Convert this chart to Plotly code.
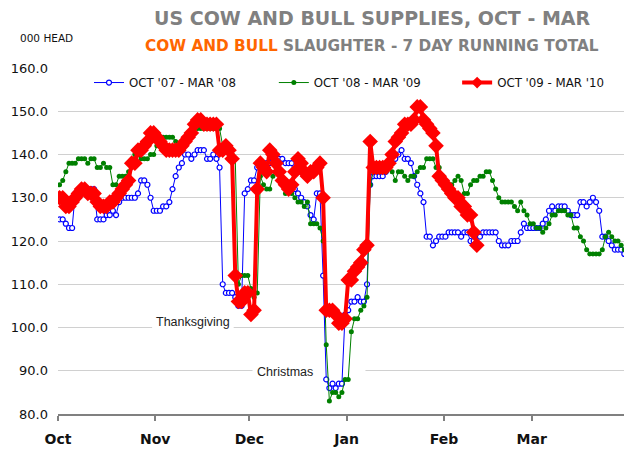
import pandas as pd
import plotly.graph_objects as go

# ---- data (000 head, 7-day running total, daily from Oct 1) ----
month_ticks = ["2009-10-01", "2009-11-01", "2009-12-01", "2010-01-01",
               "2010-02-01", "2010-03-01", "2010-04-01"]
month_labels = ["Oct", "Nov", "Dec", "Jan", "Feb", "Mar", ""]

oct07_mar08 = [
    125, 125, 124, 123, 123, 131, 131, 131, 132, 132, 132, 132, 125, 125, 125, 126, 126, 127, 126, 129,
    130, 130, 130, 130, 130, 131, 134, 134, 133, 130, 127, 127, 127, 128, 128, 129, 132, 135, 137, 138,
    140, 140, 139, 140, 141, 141, 141, 139, 139, 140, 139, 137,
    110, 108, 108, 108, 107, 105, 105,
    131, 132, 134, 134, 137, 137, 138, 138, 138, 139, 139, 139, 139, 138, 138, 138, 132, 131, 130, 129,
    128, 126, 125, 131, 131, 112,
    88, 86, 87, 86, 87, 87, 103, 104, 106, 106, 107, 106, 106, 110,
    133, 135, 135, 135, 135, 136, 137, 138, 139, 140, 141, 139, 139, 138, 135, 133, 131, 129, 121, 121,
    119, 120, 121, 121, 121,
    122, 122, 122, 122, 121, 122, 122, 120, 120, 121, 121, 122, 122, 122, 122, 122, 120, 119, 119, 119,
    120, 120, 120, 122, 124, 123, 123, 123, 123, 123, 124, 125, 127, 128, 127, 128, 128, 128, 127, 126,
    126, 126, 129, 129, 128, 129, 130, 129, 127, 121, 121, 120, 119, 118, 118, 118, 117, 117,
]

oct08_mar09 = [
    133, 134, 136, 138, 138, 138, 139, 139, 139, 138, 139, 139, 137, 137, 138, 137, 137, 133, 133, 135,
    135, 135, 136,
    138, 140, 140, 139, 139, 139, 140, 140, 142, 142,
    144, 144, 144, 144, 143, 142, 142, 142, 143, 145, 146, 146, 146, 146, 146, 146, 146, 146, 146, 142,
    141, 141, 140, 139,
    110, 112, 112, 112, 109, 107, 108,
    135, 133, 132, 132, 135, 137, 136, 134, 131, 132, 131, 130, 129, 129, 128, 129, 124, 124, 124, 123,
    120,
    96, 83, 85, 85, 84, 85, 88, 88, 99, 102, 102, 104, 105, 107,
    133, 136, 136, 136, 136, 136, 137, 136, 134, 136, 136, 135, 134, 135, 135, 136, 137, 137, 139, 139,
    139, 137, 137,
    135, 133, 133, 133, 134, 135, 134, 131, 131, 133, 134, 134, 135, 135, 136, 136, 134, 132, 130, 129,
    129, 129, 129, 128, 127, 129, 127, 126, 124, 124, 123, 123, 122, 123, 124, 126, 126, 127, 127, 127,
    126, 126, 123, 123, 121, 120, 118, 117, 117, 117, 117, 118, 121, 122, 121, 120, 120, 119, 118, 117,
]

oct09_mar10 = [
    130, 130, 128, 128, 129, 130, 131, 132, 132, 131, 131, 131, 129, 128, 128, 128, 129, 129, 130, 131,
    132, 133, 134, 138, 138, 141, 141, 142, 143, 145, 145,
    144, 143, 142, 141, 141, 141, 141, 141, 142, 143, 144, 145, 147, 148, 148, 147, 147, 147, 147, 147,
    141, 141, 142, 141, 139,
    112, 106, 106, 108, 108, 103, 104,
    132, 138, 137, 136, 141, 140, 138, 136, 134, 133, 132, 133, 136, 139, 138, 136, 135, 136, 136, 137,
    138, 130,
    104, 104, 104, 103, 101, 101, 102, 111, 111, 113, 114, 115, 118, 119,
    143, 137, 137, 137, 137, 137, 138, 140, 143, 144, 145, 147, 147, 147, 148, 151, 151, 148, 147, 146,
    145, 142,
    135, 134, 133, 132, 131, 130, 130, 128, 128, 126, 126, 122, 119,
]

series_names = ["OCT '07 - MAR '08", "OCT '08 - MAR '09", "OCT '09 - MAR '10"]

dates = pd.date_range("2009-10-01 12:00", periods=len(oct07_mar08), freq="D")

FONT = "DejaVu Sans"
GRAY = "#808080"

fig = go.Figure()
fig.add_trace(go.Scatter(
    x=dates, y=oct07_mar08, name=series_names[0], mode="lines+markers",
    line=dict(color="#0000FF", width=1),
    marker=dict(symbol="circle", size=5, color="white", line=dict(color="#0000FF", width=1.2)),
    legend="legend",
))
fig.add_trace(go.Scatter(
    x=dates, y=oct08_mar09, name=series_names[1], mode="lines+markers",
    line=dict(color="#008000", width=1),
    marker=dict(symbol="circle", size=5, color="#008000"),
    legend="legend2",
))
fig.add_trace(go.Scatter(
    x=dates[:len(oct09_mar10)], y=oct09_mar10, name=series_names[2], mode="lines+markers",
    line=dict(color="#FF0000", width=4),
    marker=dict(symbol="diamond", size=12, color="#FF0000"),
    showlegend=False,
))
# legend entry for the red series with a smaller key marker (no data drawn)
fig.add_trace(go.Scatter(
    x=[None], y=[None], name=series_names[2], mode="lines+markers",
    line=dict(color="#FF0000", width=4),
    marker=dict(symbol="diamond", size=9, color="#FF0000"),
    legend="legend3", hoverinfo="skip",
))

# white band behind the legend row (hides the top gridline)
fig.add_shape(type="rect", xref="paper", yref="paper", layer="between",
              x0=0.021, x1=0.984, y0=0.975, y1=1.01,
              fillcolor="white", line=dict(width=0))
# white boxes behind the holiday labels (over gridlines, under data)
fig.add_shape(type="rect", xref="x", yref="y", layer="between",
              x0="2009-10-31", x1="2009-11-26", y0=98.9, y1=103.4,
              fillcolor="white", line=dict(width=0))
fig.add_shape(type="rect", xref="x", yref="y", layer="between",
              x0="2009-12-02", x1="2010-01-07", y0=87.6, y1=92.0,
              fillcolor="white", line=dict(width=0))

fig.add_annotation(x="2009-11-13 02:00", y=101.2, xref="x", yref="y", text="Thanksgiving",
                   xanchor="center", yanchor="middle",
                   showarrow=False, font=dict(family="Liberation Sans", size=12.5, color="#222222"))
fig.add_annotation(x="2009-12-12 10:00", y=89.6, xref="x", yref="y", text="Christmas",
                   xanchor="center", yanchor="middle",
                   showarrow=False, font=dict(family="Liberation Sans", size=12.5, color="#222222"))

# titles
fig.add_annotation(x=0.55, y=1.1445, xref="paper", yref="paper", showarrow=False,
                   xanchor="center", yanchor="middle",
                   text="<b>US COW AND BULL SUPPLIES, OCT - MAR</b>",
                   font=dict(family=FONT, size=19, color=GRAY))
fig.add_annotation(x=0.55, y=1.0636, xref="paper", yref="paper", showarrow=False,
                   xanchor="center", yanchor="middle",
                   text="<b><span style='color:#FF6600'>COW AND BULL</span> SLAUGHTER - 7 DAY RUNNING TOTAL</b>",
                   font=dict(family=FONT, size=15.3, color=GRAY))
fig.add_annotation(x=-0.021, y=1.0867, xref="paper", yref="paper", showarrow=False,
                   xanchor="center", yanchor="middle",
                   text="000 HEAD", font=dict(family=FONT, size=10.5, color="#111111"))

legend_common = dict(orientation="h", y=0.958, xanchor="left", yanchor="middle",
                     bgcolor="rgba(255,255,255,0)", itemwidth=30, borderwidth=0,
                     font=dict(family=FONT, size=11.8, color="#111111"))

fig.update_layout(
    width=624, height=441,
    margin=dict(l=50, r=3, t=60, b=35),
    paper_bgcolor="white", plot_bgcolor="white",
    font=dict(family=FONT, color="#111111"),
    showlegend=True,
    legend=dict(x=0.0543, **legend_common),
    legend2=dict(x=0.378, **legend_common),
    legend3=dict(x=0.699, **legend_common),
    xaxis=dict(
        type="date", range=["2009-10-01", "2010-04-01"],
        tickmode="array", tickvals=month_ticks, ticktext=month_labels,
        tickfont=dict(family=FONT, size=14, color="#111111", weight="bold"),
        showgrid=False, showline=True, linecolor=GRAY, linewidth=2,
        ticks="outside", ticklen=5, tickwidth=1.5, tickcolor=GRAY,
        ticklabelstandoff=6, zeroline=False,
    ),
    yaxis=dict(
        range=[80, 160], dtick=10, tick0=80, tickformat=".1f",
        tickfont=dict(family=FONT, size=13, color="#111111"),
        showgrid=True, gridcolor="#d0d0d0", gridwidth=1,
        showline=False, zeroline=False, ticks="", ticklabelstandoff=9,
    ),
)

fig.write_html("out.html")
